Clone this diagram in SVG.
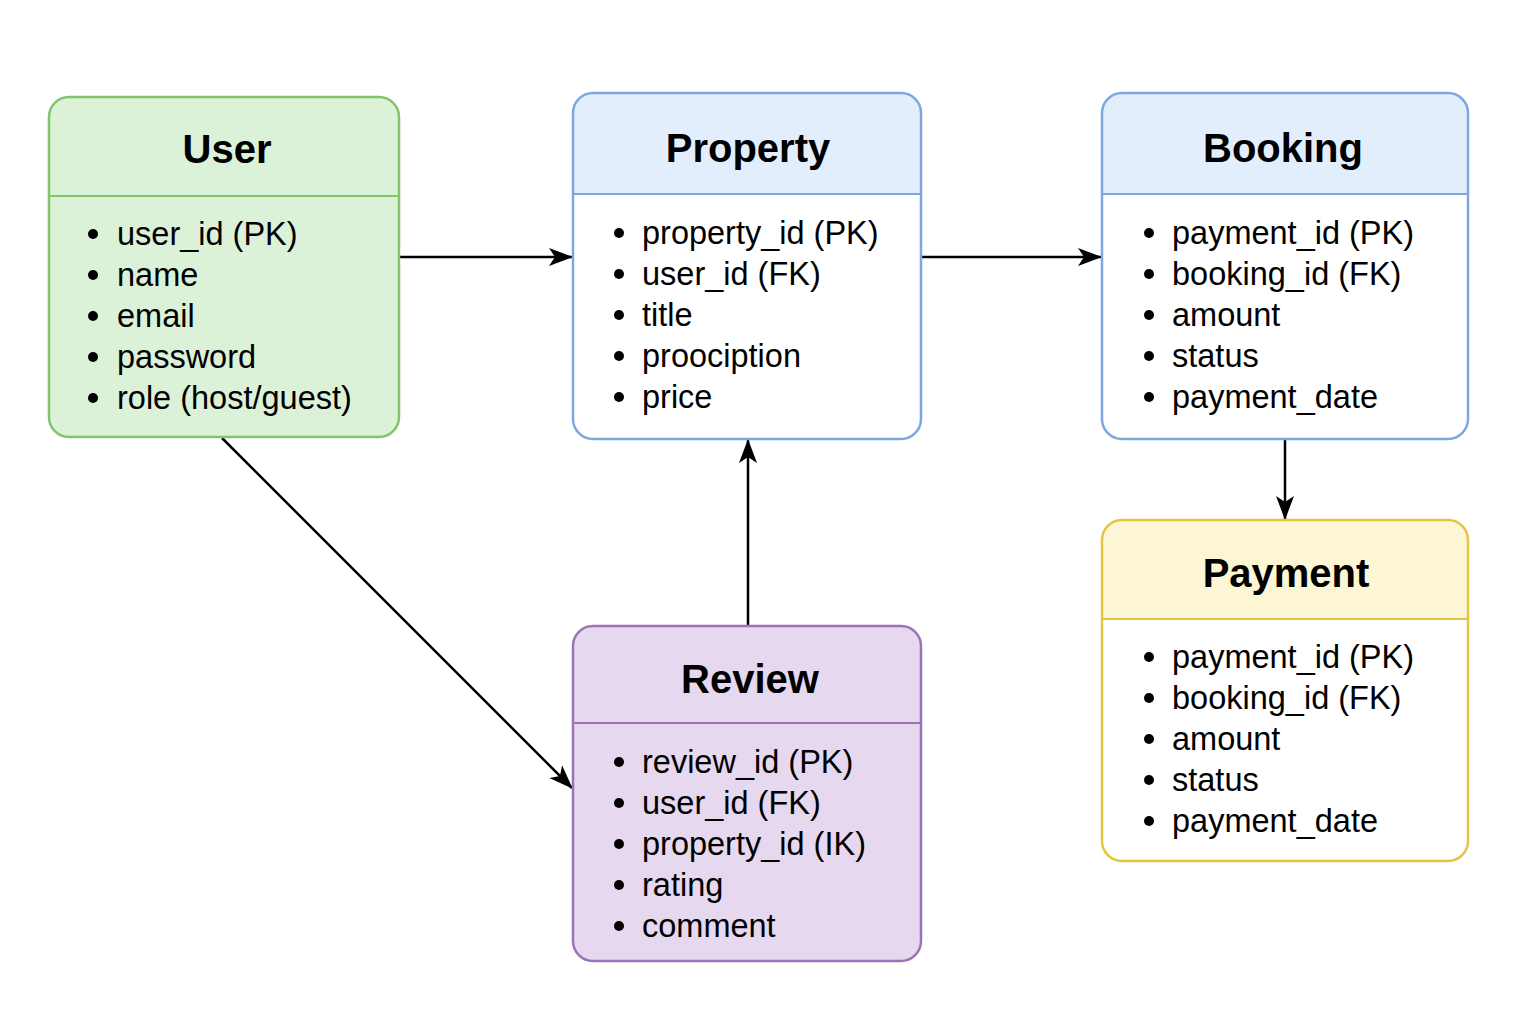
<svg xmlns="http://www.w3.org/2000/svg" width="1536" height="1024" viewBox="0 0 1536 1024">
<defs>
<marker id="arr" viewBox="0 0 24 20" refX="23" refY="10" markerWidth="24" markerHeight="20" markerUnits="userSpaceOnUse" orient="auto">
<path d="M0,1 L24,10 L0,19 L6,10 Z" fill="#000"/>
</marker>
</defs>
<style>
.t{font-family:"Liberation Sans",Arial,sans-serif;font-weight:bold;font-size:40px;fill:#000;text-anchor:middle}
.b{font-family:"Liberation Sans",Arial,sans-serif;font-size:32.5px;fill:#000}
.c{stroke:#000;stroke-width:2.5;fill:none;marker-end:url(#arr)}
.dot{fill:#000}
</style>
<rect width="1536" height="1024" fill="#fff"/>
<g id="connectors">
<line class="c" x1="400" y1="257" x2="572" y2="257"/>
<line class="c" x1="922" y1="257" x2="1101" y2="257"/>
<line class="c" x1="1285" y1="440" x2="1285" y2="519"/>
<line class="c" x1="748" y1="625" x2="748" y2="440"/>
<line class="c" x1="222" y1="438" x2="572" y2="788"/>
</g>
<g id="user">
<rect x="49" y="97" width="350" height="340" rx="20" fill="#dbf1d8" stroke="#82c46c" stroke-width="2.5"/>
<line x1="49" y1="196" x2="399" y2="196" stroke="#82c46c" stroke-width="2"/>
<text class="t" x="227" y="163">User</text>
<circle class="dot" cx="93" cy="234" r="5"/><text class="b" x="117" y="245">user_id (PK)</text>
<circle class="dot" cx="93" cy="275" r="5"/><text class="b" x="117" y="286">name</text>
<circle class="dot" cx="93" cy="316" r="5"/><text class="b" x="117" y="327">email</text>
<circle class="dot" cx="93" cy="357" r="5"/><text class="b" x="117" y="368">password</text>
<circle class="dot" cx="93" cy="398" r="5"/><text class="b" x="117" y="409">role (host/guest)</text>
</g>
<g id="property">
<path d="M593,93 H901 A20,20 0 0 1 921,113 V194 H573 V113 A20,20 0 0 1 593,93 Z" fill="#e3eefc"/>
<rect x="573" y="93" width="348" height="346" rx="20" fill="none" stroke="#7ea6e0" stroke-width="2.5"/>
<line x1="573" y1="194" x2="921" y2="194" stroke="#7ea6e0" stroke-width="2"/>
<text class="t" x="748" y="162">Property</text>
<circle class="dot" cx="619" cy="233" r="5"/><text class="b" x="642" y="244">property_id (PK)</text>
<circle class="dot" cx="619" cy="274" r="5"/><text class="b" x="642" y="285">user_id (FK)</text>
<circle class="dot" cx="619" cy="315" r="5"/><text class="b" x="642" y="326">title</text>
<circle class="dot" cx="619" cy="356" r="5"/><text class="b" x="642" y="367">proociption</text>
<circle class="dot" cx="619" cy="397" r="5"/><text class="b" x="642" y="408">price</text>
</g>
<g id="booking">
<path d="M1122,93 H1448 A20,20 0 0 1 1468,113 V194 H1102 V113 A20,20 0 0 1 1122,93 Z" fill="#e3eefc"/>
<rect x="1102" y="93" width="366" height="346" rx="20" fill="none" stroke="#7ea6e0" stroke-width="2.5"/>
<line x1="1102" y1="194" x2="1468" y2="194" stroke="#7ea6e0" stroke-width="2"/>
<text class="t" x="1283" y="162">Booking</text>
<circle class="dot" cx="1149" cy="233" r="5"/><text class="b" x="1172" y="244">payment_id (PK)</text>
<circle class="dot" cx="1149" cy="274" r="5"/><text class="b" x="1172" y="285">booking_id (FK)</text>
<circle class="dot" cx="1149" cy="315" r="5"/><text class="b" x="1172" y="326">amount</text>
<circle class="dot" cx="1149" cy="356" r="5"/><text class="b" x="1172" y="367">status</text>
<circle class="dot" cx="1149" cy="397" r="5"/><text class="b" x="1172" y="408">payment_date</text>
</g>
<g id="review">
<rect x="573" y="626" width="348" height="335" rx="20" fill="#e6d8ee" stroke="#9c74b6" stroke-width="2.5"/>
<line x1="573" y1="723" x2="921" y2="723" stroke="#9c74b6" stroke-width="2"/>
<text class="t" x="750" y="693">Review</text>
<circle class="dot" cx="619" cy="762" r="5"/><text class="b" x="642" y="773">review_id (PK)</text>
<circle class="dot" cx="619" cy="803" r="5"/><text class="b" x="642" y="814">user_id (FK)</text>
<circle class="dot" cx="619" cy="844" r="5"/><text class="b" x="642" y="855">property_id (IK)</text>
<circle class="dot" cx="619" cy="885" r="5"/><text class="b" x="642" y="896">rating</text>
<circle class="dot" cx="619" cy="926" r="5"/><text class="b" x="642" y="937">comment</text>
</g>
<g id="payment">
<path d="M1122,520 H1448 A20,20 0 0 1 1468,540 V619 H1102 V540 A20,20 0 0 1 1122,520 Z" fill="#fdf6d4"/>
<rect x="1102" y="520" width="366" height="341" rx="20" fill="none" stroke="#e3c542" stroke-width="2.5"/>
<line x1="1102" y1="619" x2="1468" y2="619" stroke="#e3c542" stroke-width="2"/>
<text class="t" x="1286" y="587">Payment</text>
<circle class="dot" cx="1149" cy="657" r="5"/><text class="b" x="1172" y="668">payment_id (PK)</text>
<circle class="dot" cx="1149" cy="698" r="5"/><text class="b" x="1172" y="709">booking_id (FK)</text>
<circle class="dot" cx="1149" cy="739" r="5"/><text class="b" x="1172" y="750">amount</text>
<circle class="dot" cx="1149" cy="780" r="5"/><text class="b" x="1172" y="791">status</text>
<circle class="dot" cx="1149" cy="821" r="5"/><text class="b" x="1172" y="832">payment_date</text>
</g>
</svg>
